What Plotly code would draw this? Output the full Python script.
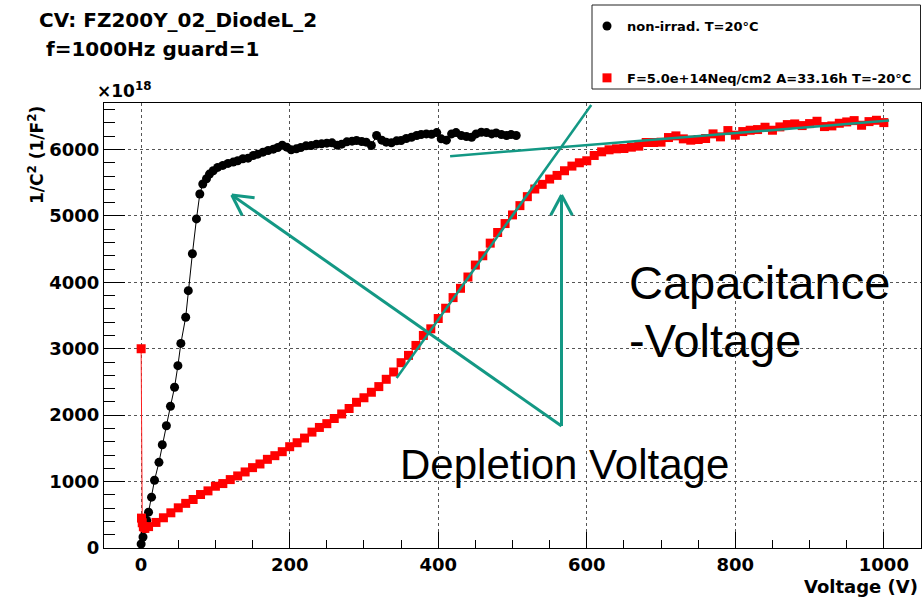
import math
import plotly.graph_objects as go

# ---------------- data (values in units of 1e18 1/F^2) ----------------
black_v = [0, 2.5, 5, 7.5, 10, 14, 18, 24, 28.5, 34, 39.5, 45, 49.5, 53.5, 60, 63.5, 69, 74.5, 79,
           83, 88, 92, 97, 103, 110, 117, 124, 130, 137, 144, 151, 157, 164, 171, 178, 184, 190,
           196, 202, 209, 215, 222, 229, 236, 243, 250, 257, 264, 270, 277, 284, 290, 297, 303,
           310, 317, 324, 330, 337, 344, 350, 357, 364, 371, 377, 384, 391, 398, 404, 411, 418,
           424, 431, 438, 445, 451, 458, 465, 472, 478, 485, 492, 498, 505]
black_y = [60, 165, 290, 415, 540, 765, 1020, 1290, 1555, 1840, 2135, 2420, 2745, 3080, 3475, 3875,
           4430, 4955, 5330, 5480, 5560, 5630, 5680, 5730, 5760, 5790, 5810, 5830, 5860, 5870,
           5910, 5930, 5960, 5985, 6005, 6030, 6065, 6035, 5995, 6010, 6030, 6055, 6060, 6080,
           6085, 6095, 6100, 6065, 6080, 6115, 6125, 6135, 6120, 6110, 6060, 6210, 6140, 6110,
           6100, 6130, 6135, 6165, 6185, 6210, 6225, 6235, 6230, 6255, 6160, 6140, 6235, 6255,
           6210, 6195, 6185, 6235, 6260, 6255, 6235, 6250, 6225, 6210, 6225, 6210]

red_v = [0, 0.5, 1.5, 3, 5] + list(range(10, 1001, 10))
red_y = [3000, 450, 380, 320, 295,
         322, 385, 455, 530, 605, 672, 730, 805, 860, 930,
         970, 1030, 1085, 1145, 1210, 1265, 1335, 1390, 1450, 1525,
         1585, 1655, 1745, 1815, 1872, 1950, 2018, 2100, 2194, 2262,
         2345, 2430, 2540, 2650, 2790, 2900, 3050, 3200, 3300, 3455,
         3610, 3770, 3910, 4080, 4260, 4400, 4590, 4750, 4885, 5015,
         5155, 5290, 5405, 5475, 5555, 5610, 5680, 5750, 5800, 5830,
         5910, 5965, 5995, 6010, 6015, 6035, 6050, 6105, 6105, 6110,
         6180, 6205, 6160, 6140, 6150, 6165, 6235, 6190, 6285, 6215,
         6270, 6290, 6300, 6335, 6290, 6340, 6375, 6385, 6360, 6390,
         6425, 6345, 6355, 6395, 6415, 6435, 6365, 6420, 6440, 6405]

series_names = ["non-irrad. T=20°C", "F=5.0e+14Neq/cm2 A=33.16h T=-20°C"]

# annotation guide lines (data units)
tangent_rise = [(344, 2560), (606, 6670)]
tangent_plateau = [(416, 5900), (1007, 6435)]
arrow_origin = (566, 1837)
arrow_tips = [(122, 5315), (566, 5315)]

x_range = [-50, 1050]
y_range = [0, 6700]

# ---------------- geometry ----------------
W, H = 922, 599
ML, MR, MT, MB = 104, 1, 103, 51
PW, PH = W - ML - MR, H - MT - MB
TEAL = "#139884"
BOLD = dict(family="DejaVu Sans", weight="bold", color="black")


def d2px(v, y):
    return (ML + (v - x_range[0]) / (x_range[1] - x_range[0]) * PW,
            MT + (y_range[1] - y) / (y_range[1] - y_range[0]) * PH)


def px2d(px, py):
    return (x_range[0] + (px - ML) / PW * (x_range[1] - x_range[0]),
            y_range[1] - (py - MT) / PH * (y_range[1] - y_range[0]))


def paper(px, py):
    return (px - ML) / PW, (H - MB - py) / PH


fig = go.Figure()

# lines
fig.add_trace(go.Scatter(x=black_v, y=black_y, mode="lines", line=dict(color="black", width=1),
                         showlegend=False, hoverinfo="skip"))
fig.add_trace(go.Scatter(x=red_v, y=red_y, mode="lines", line=dict(color="#ff2020", width=1),
                         showlegend=False, hoverinfo="skip"))
# markers
fig.add_trace(go.Scatter(x=black_v, y=black_y, mode="markers", name=series_names[0],
                         legendgroup="a",
                         marker=dict(symbol="circle", size=9, color="black")))
fig.add_trace(go.Scatter(x=red_v, y=red_y, mode="markers", name=series_names[1],
                         legendgroup="b",
                         marker=dict(symbol="square", size=9, color="#ff0000")))

shapes = []
for (a, b) in [tangent_rise, tangent_plateau]:
    shapes.append(dict(type="line", xref="x", yref="y", x0=a[0], y0=a[1], x1=b[0], y1=b[1],
                       line=dict(color=TEAL, width=2.5)))
for tip in arrow_tips:
    shapes.append(dict(type="line", xref="x", yref="y", x0=arrow_origin[0], y0=arrow_origin[1],
                       x1=tip[0], y1=tip[1], line=dict(color=TEAL, width=3)))
    tx, ty = d2px(*tip)
    ox, oy = d2px(*arrow_origin)
    L = math.hypot(ox - tx, oy - ty)
    ux, uy = (ox - tx) / L, (oy - ty) / L
    for ang in (math.radians(28), -math.radians(28)):
        wx = ux * math.cos(ang) - uy * math.sin(ang)
        wy = ux * math.sin(ang) + uy * math.cos(ang)
        ex, ey = px2d(tx + 23 * wx, ty + 23 * wy)
        shapes.append(dict(type="line", xref="x", yref="y", x0=tip[0], y0=tip[1], x1=ex, y1=ey,
                           line=dict(color=TEAL, width=3)))

# legend box
bx0, by0 = paper(592, 89)
bx1, by1 = paper(920.5, 5)
shapes.append(dict(type="rect", xref="paper", yref="paper", x0=bx0, y0=by0, x1=bx1, y1=by1,
                   line=dict(color="#222", width=1), fillcolor="rgba(0,0,0,0)", layer="below"))

annotations = []


def add_text(text, px, py, font, xanchor="left", yanchor="middle", angle=0):
    x, y = paper(px, py)
    annotations.append(dict(text=text, x=x, y=y, xref="paper", yref="paper", showarrow=False,
                            xanchor=xanchor, yanchor=yanchor, textangle=angle, font=font))


add_text("CV: FZ200Y_02_DiodeL_2", 37, 20, dict(BOLD, size=20))
add_text(" f=1000Hz guard=1", 37, 49, dict(BOLD, size=20))
add_text("×10<sup>18</sup>", 95, 90, dict(BOLD, size=17))
add_text("1/C<sup>2</sup> (1/F<sup>2</sup>)", 36, 104, dict(BOLD, size=17), xanchor="center",
         yanchor="top", angle=-90)
add_text("Voltage (V)", 920, 586, dict(BOLD, size=18), xanchor="right")
add_text("Capacitance", 627, 282, dict(family="Liberation Sans", size=47, color="black"))
add_text("-Voltage", 627, 340, dict(family="Liberation Sans", size=47, color="black"))
add_text("Depletion Voltage", 398, 464, dict(family="Liberation Sans", size=42, color="black"))

lx, ly = paper(587, 11)

fig.update_layout(
    width=W, height=H,
    margin=dict(l=ML, r=MR, t=MT, b=MB, pad=0),
    paper_bgcolor="white", plot_bgcolor="white",
    shapes=shapes, annotations=annotations,
    showlegend=True,
    legend=dict(x=lx, y=ly, xanchor="left", yanchor="top", bgcolor="rgba(0,0,0,0)",
                borderwidth=0, tracegroupgap=32, font=dict(BOLD, size=13)),
    xaxis=dict(range=x_range, tick0=0, dtick=200, showgrid=True, griddash="dot",
               gridcolor="#555", gridwidth=1, zeroline=False, showline=True, linecolor="black",
               linewidth=1, mirror=True, ticks="inside", ticklen=16, tickcolor="black",
               tickfont=dict(BOLD, size=18),
               minor=dict(dtick=50, ticks="inside", ticklen=8, tickcolor="black", showgrid=False)),
    yaxis=dict(range=y_range, tick0=0, dtick=1000, showgrid=True, griddash="dot",
               gridcolor="#555", gridwidth=1, zeroline=False, showline=True, linecolor="black",
               linewidth=1, mirror=True, ticks="inside", ticklen=21, tickcolor="black",
               tickfont=dict(BOLD, size=18),
               minor=dict(dtick=200, ticks="inside", ticklen=11, tickcolor="black", showgrid=False)),
)

fig.write_html("out.html")
